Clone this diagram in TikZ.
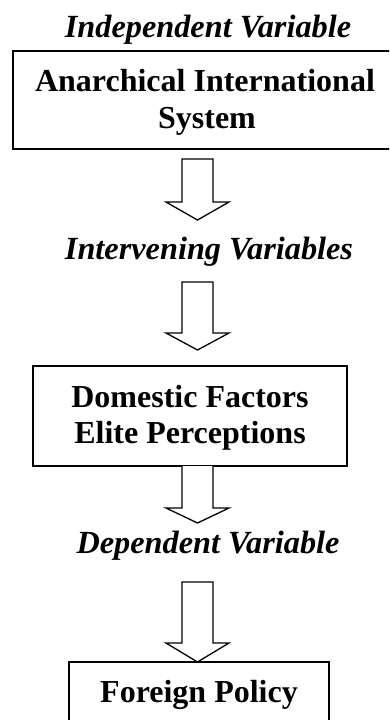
\documentclass[tikz,border=0pt]{standalone}
\usepackage{fontspec}
\setmainfont{Liberation Serif}
\begin{document}
\begin{tikzpicture}[x=1pt,y=-1pt,
  boxtext/.style={font=\fontsize{32}{36}\selectfont\bfseries, align=center},
  vlabel/.style={font=\fontsize{32.3}{34}\selectfont\bfseries\itshape, anchor=base, inner sep=0pt},
  box/.style={draw, line width=1.6pt, rectangle, inner sep=0pt},
  blockarrow/.style={draw, line width=1.3pt, line join=miter, fill=white}]
\clip (0,0) rectangle (389,720);
\fill[white] (0,0) rectangle (389,720);
% labels
\node[vlabel] (l1) at (208,37) {Independent Variable};
\node[vlabel] (l2) at (209,259) {Intervening Variables};
\node[vlabel] (l3) at (208,553) {Dependent Variable};
% boxes
\node[box, minimum width=386pt, minimum height=98pt] (b1) at (206,100) {};
\node[boxtext, anchor=base] (t1a) at (205,91) {Anarchical International};
\node[boxtext, anchor=base] (t1b) at (207,128) {System};
\node[box, minimum width=314pt, minimum height=100pt] (b2) at (190,416) {};
\node[boxtext, anchor=base] (t2a) at (190,407) {Domestic Factors};
\node[boxtext, anchor=base] (t2b) at (190,443) {Elite Perceptions};
\node[box, minimum width=260pt, minimum height=62pt] (b3) at (199,693) {};
\node[boxtext, anchor=base] (t3) at (199,702) {Foreign Policy};
% block arrows
\draw[blockarrow] (182,159) -- (213,159) -- (213,202) -- (229,202) -- (197.5,220) -- (166,202) -- (182,202) -- cycle;
\draw[blockarrow] (182,282) -- (213,282) -- (213,333) -- (229,333) -- (197.5,350) -- (166,333) -- (182,333) -- cycle;
\draw[blockarrow] (182,466) -- (182,508) -- (166,508) -- (197.5,523) -- (229,508) -- (213,508) -- (213,466);
\draw[blockarrow] (182,582) -- (213,582) -- (213,643) -- (229,643) -- (197.5,662) -- (166,643) -- (182,643) -- cycle;
\end{tikzpicture}
\end{document}
